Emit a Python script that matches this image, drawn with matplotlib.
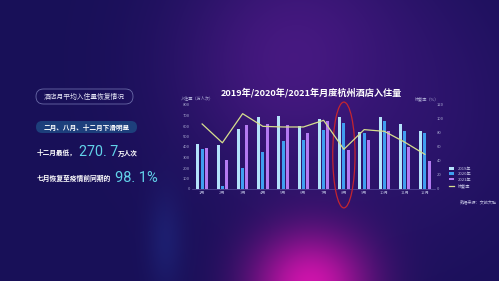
import numpy as np
import matplotlib
matplotlib.use("Agg")
import matplotlib.pyplot as plt
from matplotlib.patches import Ellipse, FancyBboxPatch
from matplotlib.transforms import blended_transform_factory

plt.rcParams['font.family'] = ['Noto Sans CJK SC', 'DejaVu Sans']

# data
months = ['1月', '2月', '3月', '4月', '5月', '6月', '7月', '8月', '9月', '10月', '11月', '12月']
y2019 = [425, 416, 568, 689, 692, 600, 663, 689, 540, 683, 616, 556]
y2020 = [378, 25, 197, 349, 457, 470, 565, 625, 533, 651, 556, 537]
y2021 = [390, 276, 610, 616, 606, 530, 651, 375, 463, 549, 400, 270.7]
recovery = [92.9, 66, 107.6, 89.5, 88.6, 88.6, 98.1, 56.7, 84.8, 82.4, 67, 49.5]
series_names = ['2019年', '2020年', '2021年', '恢复率']

W, H = 499, 281
fig = plt.figure(figsize=(W / 100, H / 100), dpi=100)

# background gradient
bg = fig.add_axes([0, 0, 1, 1])
yy, xx = np.mgrid[0:H, 0:W]
img = np.zeros((H, W, 3))
img[:] = np.array([24, 16, 88]) / 255
def glow(cx, cy, sx, sy, col, amt):
    g = np.exp(-(((xx - cx) / sx) ** 2 + ((yy - cy) / sy) ** 2))[..., None]
    return g * amt * (np.array(col) / 255 - img)
img += glow(300, 60, 120, 120, (78, 26, 135), 0.9)
img += glow(420, 120, 120, 140, (55, 22, 120), 0.5)
img += glow(310, 285, 60, 55, (215, 20, 175), 0.95)
img += glow(165, 240, 18, 50, (35, 55, 150), 0.35)
img = np.clip(img, 0, 1)
bg.imshow(img, aspect='auto', extent=[0, W, H, 0])
bg.set_xlim(0, W)
bg.set_ylim(H, 0)
bg.axis('off')

# main chart
ax = fig.add_axes([192 / W, 1 - 189 / H, 243 / W, 84 / H])
ax.patch.set_alpha(0)
x = np.arange(len(months))
bw = 0.16
b1 = ax.bar(x - 0.21, y2019, bw, color='#b4e2fb', label=series_names[0])
b2 = ax.bar(x, y2020, bw, color='#3f9ff0', label=series_names[1])
b3 = ax.bar(x + 0.21, y2021, bw, color='#b47af2', label=series_names[2])
ax.set_xlim(-0.5, 11.5)
ax.set_ylim(0, 800)
ax.set_yticks(range(0, 801, 100))
ax.set_xticks(x)
ax.set_xticklabels(months)
for s in ['top', 'right', 'left']:
    ax.spines[s].set_visible(False)
ax.spines['bottom'].set_color('#5a4fa0')
ax.spines['bottom'].set_linewidth(0.5)
ax.tick_params(length=0, labelsize=3, colors='#a8a8d0', pad=1.5)

ax2 = ax.twinx()
ln, = ax2.plot(x, recovery, color='#d6df8e', lw=0.9, label=series_names[3])
ax2.set_ylim(0, 120)
ax2.set_yticks(range(0, 121, 20))
for s in ax2.spines.values():
    s.set_visible(False)
ax2.tick_params(length=0, labelsize=3, colors='#a8a8d0', pad=1.5)

ax2.legend([b1, b2, b3, ln], series_names, loc='upper left', bbox_to_anchor=(1.05, 0.29),
           fontsize=3, frameon=False, labelcolor='#c8c8e8', handlelength=1.2,
           handleheight=0.6, labelspacing=0.35, borderpad=0)

# red ellipse around August
tr = blended_transform_factory(ax.transData, ax.transAxes)
ax.add_patch(Ellipse((7, 0.405), 1.1, 1.26, transform=tr, fill=False,
                     edgecolor='#c4252f', lw=0.9, clip_on=False, zorder=5))

fig.text(311 / W, 1 - 92.5 / H, '2019年/2020年/2021年月度杭州酒店入住量', color='white',
         fontsize=6.6, fontweight='bold', ha='center', va='center')
fig.text(181 / W, 1 - 97.7 / H, '入住量（万人次）', color='#b0b0d8', fontsize=3, ha='left', va='center')
fig.text(439 / W, 1 - 99 / H, '恢复率（%）', color='#b0b0d8', fontsize=3, ha='right', va='center')
fig.text(497 / W, 1 - 202 / H, '数据来源：文旅大脑', color='#c0c0e0', fontsize=3, ha='right', va='center')

# left panel
bg.add_patch(FancyBboxPatch((36, 89), 97, 15, boxstyle='round,pad=0,rounding_size=7.5',
                            fill=False, edgecolor='#6a6aa8', lw=0.6))
bg.text(84.5, 96.7, '酒店月平均入住量恢复情况', color='#e8e8f8', fontsize=4.9, ha='center', va='center')
bg.add_patch(FancyBboxPatch((36, 121), 101, 12, boxstyle='round,pad=0,rounding_size=6',
                            facecolor='#1d3f7c', edgecolor='none'))
bg.text(86.5, 127, '二月、八月、十二月下滑明显', color='white', fontsize=4.8,
        fontweight='bold', ha='center', va='center')
num_font = ['Roboto', 'DejaVu Sans']
bg.text(37, 155, '十二月最低，', color='white', fontsize=4.8, fontweight='bold', ha='left', va='baseline')
bg.text(79, 156, '270. 7', color='#62d3ea', fontsize=10.3, family=num_font,
        ha='left', va='baseline')
bg.text(117.5, 156, '万人次', color='white', fontsize=4.8, fontweight='bold', ha='left', va='baseline')
bg.text(37, 181, '七月恢复至疫情前同期的', color='white', fontsize=4.9, fontweight='bold', ha='left', va='baseline')
bg.text(115, 182, '98. 1%', color='#62d3ea', fontsize=10.5, family=num_font,
        ha='left', va='baseline')

fig.savefig('out.png', dpi=100)
